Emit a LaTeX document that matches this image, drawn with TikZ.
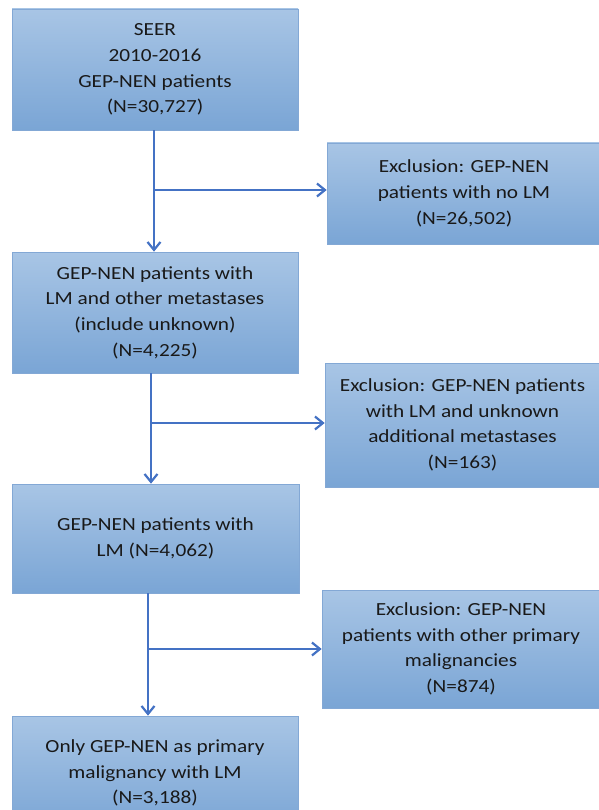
\documentclass[tikz,border=0pt]{standalone}
\usepackage{fontspec}
\setmainfont{Carlito}[FakeStretch=1.15]
\usetikzlibrary{arrows.meta}
\definecolor{boxtop}{RGB}{168,197,229}
\definecolor{boxbot}{RGB}{122,165,213}
\definecolor{boxedge}{RGB}{131,168,213}
\definecolor{flowblue}{RGB}{68,114,196}
\tikzset{
  stagebox/.style={draw=boxedge, line width=0.6pt, top color=boxtop, bottom color=boxbot,
    align=center, inner sep=0pt, text=black!90,
    font=\fontsize{18.5}{25.7}\selectfont},
  flow/.style={draw=flowblue, line width=2.2pt, -{Straight Barb[length=8pt,width=13pt]}},
}

\begin{document}
\begin{tikzpicture}[x=1pt,y=-1pt]
  \useasboundingbox (0,0) rectangle (598,810);
  % Main stages
  \node[stagebox, minimum width=286pt, minimum height=121pt] (seer) at (155,69.5)
    {SEER\\2010-2016\\GEP-NEN patients\\(N=30,727)};
  \node[stagebox, minimum width=286pt, minimum height=121pt] (lmall) at (155,312.5)
    {GEP-NEN patients with\\LM and other metastases\\(include unknown)\\(N=4,225)};
  \node[stagebox, minimum width=287pt, minimum height=109pt] (lmonly) at (155.5,538.5)
    {GEP-NEN patients with\\LM (N=4,062)};
  \node[stagebox, minimum width=286pt, minimum height=114pt] (final) at (155,773)
    {Only GEP-NEN as primary\\malignancy with LM\\(N=3,188)};

  % Exclusions
  \node[stagebox, minimum width=274pt, minimum height=101pt] (exnolm) at (464,193.5)
    {Exclusion: GEP-NEN\\patients with no LM\\(N=26,502)};
  \node[stagebox, minimum width=275pt, minimum height=124pt] (exunk) at (462.5,425)
    {Exclusion: GEP-NEN patients\\with LM and unknown\\additional metastases\\(N=163)};
  \node[stagebox, minimum width=278pt, minimum height=118pt] (exother) at (461,649)
    {Exclusion: GEP-NEN\\patients with other primary\\malignancies\\(N=874)};

  % Flow
  \coordinate (ja) at (154,190);
  \coordinate (jb) at (151,423);
  \coordinate (jc) at (148,649);
  \draw[flow] (seer.south -| ja) -- (lmall.north -| ja);
  \draw[flow] (ja) -- (exnolm.west |- ja);
  \draw[flow] (lmall.south -| jb) -- (lmonly.north -| jb);
  \draw[flow] (jb) -- (exunk.west |- jb);
  \draw[flow] (lmonly.south -| jc) -- (final.north -| jc);
  \draw[flow] (jc) -- (exother.west |- jc);
\end{tikzpicture}
\end{document}
